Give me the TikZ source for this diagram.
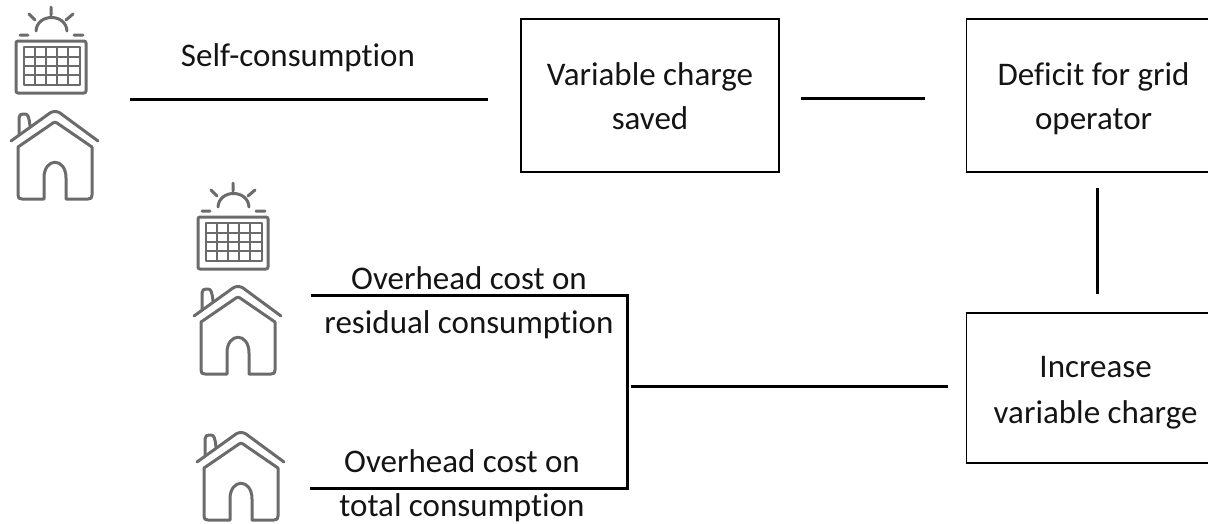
\documentclass[tikz,border=0pt]{standalone}
\usepackage{fontspec}
\setmainfont[Ligatures=NoCommon]{Carlito}
\newcommand{\lowertext}[2]{\raisebox{-#1}[\height][\depth]{#2}}
\tikzset{
  x=1pt,y=-1pt,
  boxnode/.style={draw=black,line width=1.2pt,minimum width=0pt,inner sep=0pt,align=center,font=\fontsize{33}{44}\selectfont,text=black!92},
  lbl/.style={inner sep=0pt,align=center,font=\fontsize{33}{44}\selectfont,text=black!92},
  conn/.style={draw=black,line width=3pt},
  ico/.style={draw=black!58,line width=3pt,line cap=round,line join=round},
  pics/panel/.style={code={
    \draw[ico] (36,31) .. controls (37,13) and (66,13) .. (67,31);
    \draw[ico] (51,7)--(51,15) (29,14)--(35,20) (73,14)--(66,20) (20,35)--(28,35) (74,35)--(83,35);
    \draw[ico,rounded corners=2pt] (16,41) rectangle (86,93);
    \draw[ico,line width=2.4pt] (24,47) rectangle (80,85);
    \draw[ico,line width=2.4pt] (35,47)--(35,85) (46,47)--(46,85) (57,47)--(57,85) (68,47)--(68,85)
      (24,57)--(80,57) (24,66)--(80,66) (24,75)--(80,75);
  }},
  pics/house/.style={code={
    \draw[ico] (11,141) -- (50,113) .. controls (53,111) and (57,111) .. (60,113) -- (98,141);
    \draw[ico] (18,147) -- (53,123) .. controls (54.5,122) and (55.5,122) .. (57,123) -- (92,147)
      -- (92,195) .. controls (92,198) and (91,199) .. (88,199) -- (66,199) -- (66,178)
      .. controls (66,157) and (44,157) .. (44,178) -- (44,199) -- (22,199)
      .. controls (19,199) and (18,198) .. (18,195) -- cycle;
    \draw[ico] (19,134) -- (19,118) .. controls (19,115) and (21,114) .. (23,114) -- (25,114)
      .. controls (28,114) and (29,117) .. (30,126);
  }}
}
\begin{document}
\begin{tikzpicture}
\useasboundingbox (0,0) rectangle (1208,523);
\begin{scope}
\clip (0,0) rectangle (1208,523);
\pic at (0,0) {panel};
\pic at (0,0) {house};
\pic at (182,176) {panel};
\pic at (183,175) {house};
\pic at (186,321) {house};
\node[boxnode,minimum width=258pt,minimum height=153pt] (vc) at (650,95.5) {\lowertext{1pt}{Variable charge}\\\lowertext{1pt}{saved}};
\node[boxnode,minimum width=260pt,minimum height=153pt,anchor=west] (df) at (966,95.5) {\hspace*{-6pt}\lowertext{3pt}{Deficit for grid}\\\hspace*{-6pt}\lowertext{3pt}{operator}};
\node[boxnode,minimum width=260pt,minimum height=150pt,anchor=west] (iv) at (966,388) {\hspace*{-2pt}\lowertext{4pt}{Increase}\\\hspace*{-2pt}\lowertext{6pt}{variable charge}};
\end{scope}
\node[lbl] (sc) at (298,58) {Self-consumption};
\node[lbl] (or) at (469,303) {Overhead cost on\\residual consumption};
\node[lbl] (ot) at (462,486) {Overhead cost on\\total consumption};
\coordinate (a1) at (130,99); \coordinate (a2) at (488,99);
\coordinate (b1) at (801,98); \coordinate (b2) at (925,98);
\coordinate (c1) at (1097,188); \coordinate (c2) at (1097,294);
\coordinate (d1) at (311,295); \coordinate (d2) at (627,295);
\coordinate (d3) at (627,488); \coordinate (d4) at (310,488);
\coordinate (e1) at (631,386); \coordinate (e2) at (948,386);
\draw[conn] (a1)--(a2);
\draw[conn] (b1)--(b2);
\draw[conn] (c1)--(c2);
\draw[conn] (d1)--(d2)--(d3)--(d4);
\draw[conn] (e1)--(e2);
\end{tikzpicture}
\end{document}
